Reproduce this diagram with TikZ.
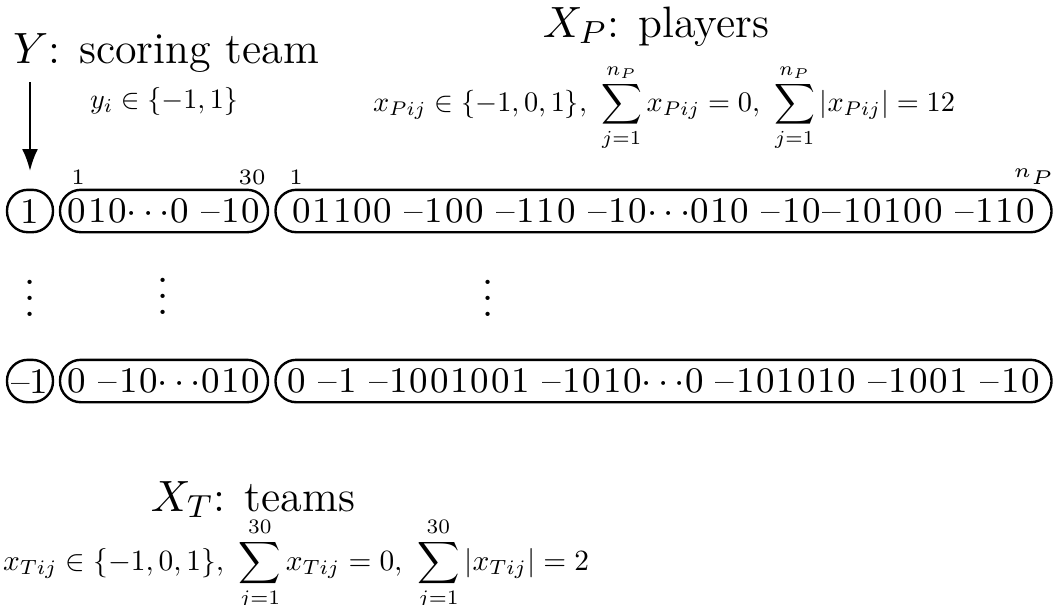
\documentclass[tikz,border=0pt]{standalone}
\usepackage{graphicx}
\usetikzlibrary{arrows.meta}
\def\lspStop{\lspStop}
\newcommand\lsp[1]{\lspA#1\lspStop}
\def\lspA#1{\ifx#1\lspStop\else#1\expandafter\lspB\fi}
\def\lspB#1{\ifx#1\lspStop\else\kern0.45pt#1\expandafter\lspB\fi}
\begin{document}
\begin{tikzpicture}[x=0.25pt,y=-0.25pt,
  every node/.style={inner sep=0pt, outer sep=0pt},
  titletext/.style={font=\fontsize{11}{13}\selectfont, anchor=base},
  formula/.style={font=\fontsize{10}{12}\selectfont, anchor=base west},
  idx/.style={font=\fontsize{5.5}{6.5}\selectfont},
  rowtext/.style={font=\fontsize{9}{11}\selectfont},
  labelbox/.style={draw, line width=0.6pt, rounded corners=5.2pt, minimum width=11.5pt, minimum height=10.6pt, rowtext},
  vecbox/.style={draw, line width=0.6pt, rounded corners=5.2pt, minimum height=10.6pt, rowtext},
  vd/.style={font=\fontsize{10}{12}\selectfont, anchor=base},
  arr/.style={line width=0.6pt, -{Latex[length=5.5pt,width=4pt]}}
]
\useasboundingbox (0,0) rectangle (1055,604);

% titles and formulas
\node[titletext] (ytitle) at (166,63) {$Y$: scoring team};
\node[formula] (yform) at (90,108) {\resizebox{37pt}{!}{$y_i\in\{-1,1\}$}};
\node[titletext] (xptitle) at (656,37) {$X_P$: players};
\node[formula] (xpform) at (373,111) {\resizebox{145.5pt}{!}{$\displaystyle x_{Pij}\in\{-1,0,1\},\ \sum_{j=1}^{n_P}x_{Pij}=0,\ \sum_{j=1}^{n_P}|x_{Pij}|=12$}};
\node[titletext] (xttitle) at (253,511) {$X_T$: teams};
\node[formula] (xtform) at (3,570) {\resizebox{146.5pt}{!}{$\displaystyle x_{Tij}\in\{-1,0,1\},\ \sum_{j=1}^{30}x_{Tij}=0,\ \sum_{j=1}^{30}|x_{Tij}|=2$}};

% first row
\node[labelbox] (y1) at (30,211) {1};
\node[vecbox, minimum width=52pt] (t1) at (164,211) {\lsp{010}$\cdots$\lsp{0} \lsp{\textendash10}};
\node[vecbox, minimum width=194pt] (p1) at (663.5,211) {\lsp{01100} \lsp{\textendash100} \lsp{\textendash110} \lsp{\textendash10}$\cdots$\lsp{010} \lsp{\textendash10\textendash10100} \lsp{\textendash110}};

% index labels
\node[idx] (i1) at (78,177) {1};
\node[idx] (i30) at (252,177) {30};
\node[idx] (i1p) at (296,177) {1};
\node[idx] (inp) at (1034,177) {$n_P$};

% arrow
\coordinate (arrtop) at (30,82);
\coordinate (arrtip) at (30,171);
\draw[arr] (arrtop) -- (arrtip);

% vertical dots
\node[vd] (d1) at (30,316) {$\vdots$};
\node[vd] (d2) at (163,314) {$\vdots$};
\node[vd] (d3) at (488,316) {$\vdots$};

% last row
\node[labelbox] (yn) at (30,381) {\textendash1};
\node[vecbox, minimum width=52pt] (tn) at (164,381) {\lsp{0} \lsp{\textendash10}$\cdots$\lsp{010}};
\node[vecbox, minimum width=194pt] (pn) at (663.5,381) {\lsp{0} \lsp{\textendash1} \lsp{\textendash1001001} \lsp{\textendash1010}$\cdots$\lsp{0} \lsp{\textendash101010} \lsp{\textendash1001} \lsp{\textendash10}};
\end{tikzpicture}
\end{document}
